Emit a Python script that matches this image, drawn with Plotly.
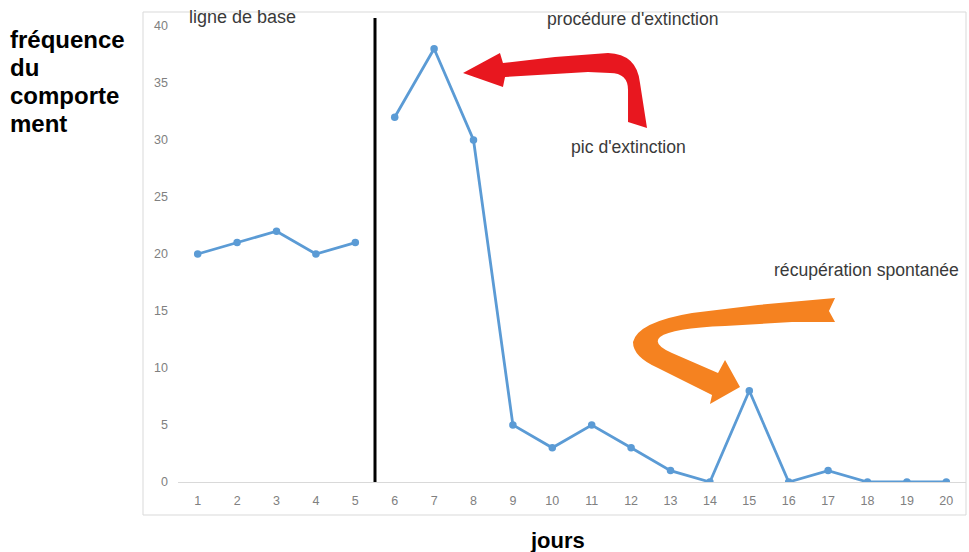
import plotly.graph_objects as go

# ---- data ----
baseline_days = [1, 2, 3, 4, 5]
baseline_freq = [20, 21, 22, 20, 21]
extinction_days = [6, 7, 8, 9, 10, 11, 12, 13, 14, 15, 16, 17, 18, 19, 20]
extinction_freq = [32, 38, 30, 5, 3, 5, 3, 1, 0, 8, 0, 1, 0, 0, 0]
x_ticks = list(range(1, 21))
y_ticks = [0, 5, 10, 15, 20, 25, 30, 35, 40]
phase_split = 5.5
y_title_lines = ["fréquence", "du", "comporte", "ment"]

W, H = 969, 552
ML, MR, MT, MB = 178, 3, 26, 70
PW, PH = W - ML - MR, H - MT - MB


def px(x):
    return (x - ML) / PW


def py(y):
    return (H - MB - y) / PH


def path(cmds):
    out = []
    for c in cmds:
        if isinstance(c, str):
            out.append(c)
        else:
            out.append(f"{px(c[0]):.4f},{py(c[1]):.4f}")
    return " ".join(out)


BLUE = "#5b9bd5"
FONT = "Liberation Sans, Arial, sans-serif"
TXT = "#3a3a3a"

fig = go.Figure()
for xs, ys in [(baseline_days, baseline_freq), (extinction_days, extinction_freq)]:
    fig.add_trace(go.Scatter(
        x=xs, y=ys, mode="lines+markers",
        line=dict(color=BLUE, width=2.8),
        marker=dict(color=BLUE, size=7.5),
        showlegend=False, hoverinfo="skip"))

red_path = path([
    "M", (463, 73), "L", (500, 53), "L", (503, 63), "L", (555, 57), "L", (608, 53),
    "Q", (637, 54), (640, 83), "L", (647, 128), "L", (628, 122), "L", (628, 90),
    "Q", (628, 73), (610, 73), "L", (588, 72), "L", (505, 77), "L", (503, 87), "Z"])

orange_path = path([
    "M", (835, 298), "L", (758, 305), "L", (692, 313),
    "Q", (638, 322), (633, 342), "Q", (633, 357), (658, 368),
    "L", (712, 395), "L", (710, 404), "L", (740, 387), "L", (725, 360),
    "L", (718, 373), "L", (672, 353), "Q", (652, 344), (660, 337),
    "Q", (672, 328), (725, 326), "L", (792, 322), "L", (835, 322),
    "L", (829, 311), "Z"])

shapes = [
    dict(type="rect", xref="paper", yref="paper",
         x0=px(143), x1=px(966), y0=py(515), y1=py(12),
         line=dict(color="#d9d9d9", width=1), layer="below"),
    dict(type="line", xref="x", yref="paper", x0=phase_split, x1=phase_split,
         y0=0, y1=py(18), line=dict(color="black", width=3)),
    dict(type="path", xref="paper", yref="paper", path=red_path,
         fillcolor="#e8171f", line=dict(width=0)),
    dict(type="path", xref="paper", yref="paper", path=orange_path,
         fillcolor="#f58220", line=dict(width=0)),
]

def ann(text, x, y, size=17.6, color=TXT, xanchor="left", yanchor="middle", bold=False):
    return dict(text=f"<b>{text}</b>" if bold else text, x=px(x), y=py(y),
                xref="paper", yref="paper", showarrow=False,
                xanchor=xanchor, yanchor=yanchor, align="left",
                font=dict(family=FONT, size=size, color=color))

annotations = [
    ann("ligne de base", 187, 17, size=18),
    ann("procédure d'extinction", 545, 19),
    ann("pic d'extinction", 569, 147),
    ann("récupération spontanée", 772, 270),
    ann("jours", 557, 540, size=22, color="black", xanchor="center", bold=True),
]
for i, line in enumerate(y_title_lines):
    annotations.append(ann(line, 8, 40 + 27.7 * i, size=24, color="black", bold=True))

fig.update_layout(
    width=W, height=H,
    margin=dict(l=ML, r=MR, t=MT, b=MB),
    paper_bgcolor="white", plot_bgcolor="white",
    shapes=shapes, annotations=annotations,
    xaxis=dict(range=[0.5, 20.5], tickvals=x_ticks, ticktext=[str(v) for v in x_ticks],
               showgrid=False, zeroline=False, showline=True, linecolor="#d9d9d9",
               linewidth=1, ticks="", ticklabelstandoff=7,
               tickfont=dict(family=FONT, size=12.5, color="#808080")),
    yaxis=dict(range=[0, 40], tickvals=y_ticks, showgrid=False, zeroline=False,
               showline=False, ticks="", ticklabelstandoff=9,
               tickfont=dict(family=FONT, size=12.5, color="#808080")),
)

fig.write_html("out.html", config={"displayModeBar": False},
               post_script="document.body.style.margin='0';document.body.style.padding='0';")
